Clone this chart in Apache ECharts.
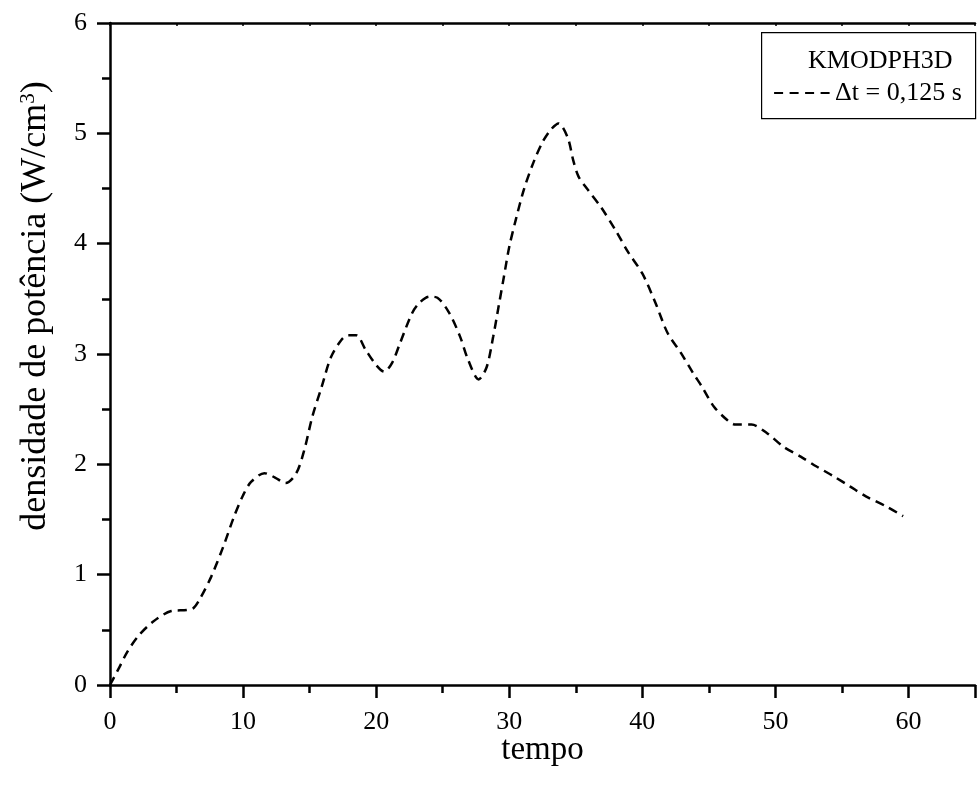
<!DOCTYPE html>
<html>
<head>
<meta charset="utf-8">
<script src="https://cdn.jsdelivr.net/npm/echarts@6/dist/echarts.min.js"></script>
<style>
html,body{margin:0;padding:0;background:#fff;}
#chart{width:978px;height:787px;}
</style>
</head>
<body>
<div id="chart"></div>
<script>
const tempo = [0, 0.7, 1.3, 2.1, 3.2, 4.6, 5.8, 6.3, 6.8, 7.6, 8.5, 9.3, 10.0, 10.6, 11.6, 12.4, 13.2, 14.0, 14.6, 15.2, 15.9, 16.6, 17.4, 17.9, 18.5, 19.2, 20.0, 20.6, 21.2, 21.8, 22.7, 23.3, 24.0, 24.6, 25.5, 26.3, 26.9, 27.7, 28.3, 28.8, 29.2, 29.6, 30.0, 30.5, 31.1, 31.8, 32.5, 33.1, 33.7, 34.4, 34.8, 35.2, 35.9, 36.9, 38.0, 38.9, 40.0, 41.0, 41.9, 42.9, 43.8, 44.5, 45.4, 46.4, 47.0, 48.2, 49.4, 50.6, 51.9, 53.1, 54.4, 55.6, 56.8, 58.3, 59.6];
const densidade = [0, 0.16, 0.30, 0.44, 0.57, 0.67, 0.68, 0.70, 0.79, 0.98, 1.25, 1.52, 1.72, 1.84, 1.92, 1.88, 1.83, 1.92, 2.13, 2.43, 2.70, 2.97, 3.13, 3.17, 3.17, 3.04, 2.90, 2.84, 2.92, 3.10, 3.37, 3.47, 3.52, 3.51, 3.37, 3.16, 2.95, 2.77, 2.88, 3.16, 3.43, 3.70, 3.97, 4.22, 4.49, 4.73, 4.92, 5.03, 5.09, 4.96, 4.76, 4.61, 4.49, 4.33, 4.12, 3.93, 3.73, 3.46, 3.19, 3.01, 2.83, 2.70, 2.52, 2.40, 2.36, 2.36, 2.28, 2.16, 2.07, 1.98, 1.89, 1.80, 1.71, 1.62, 1.53];
const seriesName = 'Δt = 0,125 s';
const legendTitle = 'KMODPH3D';
const xAxisTitle = 'tempo';
const xTickLabels = ['0', '10', '20', '30', '40', '50', '60'];
const yTickLabels = ['0', '1', '2', '3', '4', '5', '6'];

const data = tempo.map((t, i) => [t, densidade[i]]);
const font = 'Liberation Serif';
const chart = echarts.init(document.getElementById('chart'));
chart.setOption({
  animation: false,
  backgroundColor: '#fff',
  textStyle: { fontFamily: font, color: '#000' },
  grid: { left: 110, right: -5, top: 23, bottom: 102 },
  xAxis: [{
    type: 'value', min: 0, max: 65, interval: 10,
    name: xAxisTitle, nameLocation: 'middle', nameGap: 49, nameMoveOverlap: false,
    nameTextStyle: { fontFamily: font, fontSize: 33, color: '#000' },
    axisLine: { lineStyle: { color: '#000', width: 2.5 } },
    axisTick: { length: 13, lineStyle: { color: '#000', width: 2.5 } },
    minorTick: { show: true, splitNumber: 2, length: 8, lineStyle: { color: '#000', width: 2.5 } },
    axisLabel: { margin: 24, fontFamily: font, fontSize: 26, color: '#000',
      formatter: v => xTickLabels.indexOf(String(v)) >= 0 ? String(v) : '' },
    splitLine: { show: false }
  }, {
    type: 'value', min: 0, max: 65, interval: 5, position: 'top',
    axisLine: { lineStyle: { color: '#000', width: 2.5 } },
    axisTick: { inside: true, length: 3, lineStyle: { color: '#000', width: 1.5 } },
    axisLabel: { show: false },
    splitLine: { show: false }
  }],
  yAxis: {
    type: 'value', min: 0, max: 6, interval: 1,
    name: '{a|densidade de potência (W/cm}{s|3}{a|)}',
    nameLocation: 'middle', nameGap: 56, nameRotate: 90, nameMoveOverlap: false,
    nameTextStyle: {
      padding: [0, 0, 0, 96],
      rich: {
        a: { fontFamily: font, fontSize: 36, color: '#000' },
        s: { fontFamily: font, fontSize: 21, color: '#000', verticalAlign: 'top', padding: [0, 0, 15, 0] }
      }
    },
    axisLine: { lineStyle: { color: '#000', width: 2.5 } },
    axisTick: { length: 13, lineStyle: { color: '#000', width: 2.5 } },
    minorTick: { show: true, splitNumber: 2, length: 8, lineStyle: { color: '#000', width: 2.5 } },
    axisLabel: { margin: 23, fontFamily: font, fontSize: 26, color: '#000',
      formatter: v => yTickLabels.indexOf(String(v)) >= 0 ? String(v) : '' },
    splitLine: { show: false }
  },
  legend: {
    data: [seriesName],
    left: 773, top: 80,
    itemWidth: 56, itemHeight: 14, itemGap: 0,
    itemStyle: { opacity: 0 },
    lineStyle: { type: [9, 6.5], width: 2.2 },
    textStyle: { fontFamily: font, fontSize: 26, color: '#000' },
    padding: 0
  },
  graphic: [{
    type: 'rect', left: 761, top: 32, z: 1,
    shape: { width: 214, height: 86 },
    style: { fill: '#fff', stroke: '#000', lineWidth: 1.2 }
  }, {
    type: 'text', left: 808, top: 48, z: 2,
    style: { text: legendTitle, fontFamily: font, fontSize: 26, fill: '#000' }
  }],
  series: [{
    type: 'line', name: seriesName, data: data, smooth: 0.3,
    showSymbol: false, symbol: 'none',
    itemStyle: { color: '#000' },
    lineStyle: { color: '#000', width: 2.5, type: [9, 6] },
    z: 3
  }]
});
</script>
</body>
</html>
